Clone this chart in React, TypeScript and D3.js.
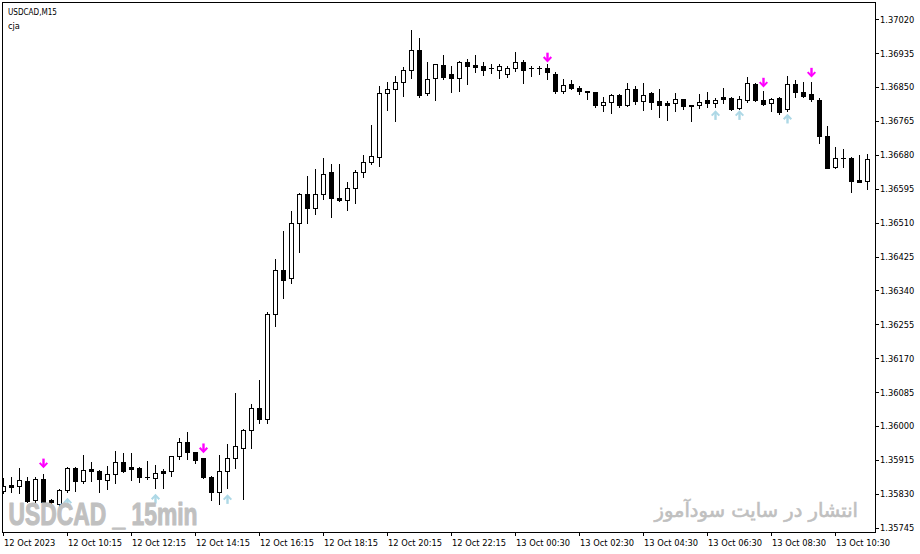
import React from 'react';
import * as d3 from 'd3';

const opens = [
  1.35837, 1.35851, 1.35850, 1.35862, 1.35814, 1.35867, 1.35814, 1.35804, 1.35839, 1.35895,
  1.35862, 1.35892, 1.35887, 1.35865, 1.35880, 1.35910, 1.35896, 1.35895, 1.35873, 1.35870,
  1.35887, 1.35887, 1.35926, 1.35961, 1.35935, 1.35919, 1.35873, 1.35835, 1.35888, 1.35921,
  1.35945, 1.35990, 1.36046, 1.36018, 1.36281, 1.36391, 1.36370, 1.36510, 1.36581, 1.36548,
  1.36581, 1.36636, 1.36571, 1.36566, 1.36596, 1.36636, 1.36661, 1.36675, 1.36834, 1.36846,
  1.36864, 1.36892, 1.36943, 1.36834, 1.36874, 1.36905, 1.36883, 1.36874, 1.36912, 1.36905,
  1.36902, 1.36898, 1.36894, 1.36884, 1.36899, 1.36913, 1.36899, 1.36898, 1.36897, 1.36883,
  1.36841, 1.36857, 1.36848, 1.36840, 1.36837, 1.36806, 1.36813, 1.36830, 1.36805, 1.36844,
  1.36814, 1.36834, 1.36814, 1.36810, 1.36809, 1.36819, 1.36804, 1.36805, 1.36818, 1.36811,
  1.36824, 1.36822, 1.36797, 1.36818, 1.36858, 1.36818, 1.36811, 1.36822, 1.36794, 1.36858,
  1.36837, 1.36833, 1.36818, 1.36728, 1.36649, 1.36672, 1.36671, 1.36617, 1.36614,
];
const highs = [
  1.35870, 1.35872, 1.35895, 1.35872, 1.35872, 1.35880, 1.35817, 1.35842, 1.35897, 1.35897,
  1.35927, 1.35910, 1.35890, 1.35900, 1.35937, 1.35932, 1.35932, 1.35897, 1.35912, 1.35902,
  1.35891, 1.35926, 1.35970, 1.35985, 1.35936, 1.35920, 1.35875, 1.35927, 1.35955, 1.36084,
  1.35992, 1.36055, 1.36115, 1.36285, 1.36420, 1.36490, 1.36538, 1.36584, 1.36626, 1.36645,
  1.36673, 1.36658, 1.36658, 1.36611, 1.36643, 1.36680, 1.36755, 1.36853, 1.36863, 1.36878,
  1.36900, 1.36993, 1.36973, 1.36913, 1.36908, 1.36930, 1.36903, 1.36915, 1.36920, 1.36930,
  1.36913, 1.36909, 1.36909, 1.36904, 1.36938, 1.36919, 1.36902, 1.36904, 1.36908, 1.36888,
  1.36871, 1.36868, 1.36853, 1.36841, 1.36838, 1.36825, 1.36833, 1.36833, 1.36860, 1.36853,
  1.36859, 1.36838, 1.36844, 1.36814, 1.36834, 1.36820, 1.36805, 1.36833, 1.36838, 1.36822,
  1.36847, 1.36826, 1.36828, 1.36876, 1.36861, 1.36841, 1.36822, 1.36826, 1.36878, 1.36868,
  1.36864, 1.36862, 1.36822, 1.36752, 1.36699, 1.36695, 1.36674, 1.36680, 1.36681,
];
const lows = [
  1.35832, 1.35835, 1.35832, 1.35809, 1.35809, 1.35807, 1.35799, 1.35797, 1.35835, 1.35837,
  1.35857, 1.35862, 1.35835, 1.35842, 1.35857, 1.35885, 1.35865, 1.35860, 1.35867, 1.35845,
  1.35845, 1.35875, 1.35917, 1.35917, 1.35907, 1.35870, 1.35814, 1.35804, 1.35845, 1.35895,
  1.35816, 1.35945, 1.36008, 1.36008, 1.36250, 1.36322, 1.36359, 1.36436, 1.36509, 1.36532,
  1.36569, 1.36525, 1.36564, 1.36542, 1.36559, 1.36624, 1.36657, 1.36653, 1.36793, 1.36765,
  1.36828, 1.36874, 1.36825, 1.36829, 1.36818, 1.36870, 1.36838, 1.36840, 1.36858, 1.36888,
  1.36880, 1.36885, 1.36874, 1.36875, 1.36890, 1.36859, 1.36877, 1.36883, 1.36871, 1.36836,
  1.36836, 1.36845, 1.36833, 1.36821, 1.36799, 1.36790, 1.36784, 1.36800, 1.36803, 1.36808,
  1.36793, 1.36795, 1.36774, 1.36767, 1.36790, 1.36794, 1.36765, 1.36797, 1.36801, 1.36801,
  1.36811, 1.36793, 1.36795, 1.36813, 1.36816, 1.36805, 1.36790, 1.36782, 1.36791, 1.36826,
  1.36826, 1.36815, 1.36711, 1.36647, 1.36648, 1.36649, 1.36588, 1.36612, 1.36594,
];
const closes = [
  1.35850, 1.35848, 1.35865, 1.35812, 1.35867, 1.35809, 1.35809, 1.35839, 1.35895, 1.35862,
  1.35890, 1.35887, 1.35867, 1.35880, 1.35910, 1.35887, 1.35892, 1.35872, 1.35871, 1.35882,
  1.35883, 1.35925, 1.35959, 1.35934, 1.35916, 1.35873, 1.35835, 1.35888, 1.35921, 1.35950,
  1.35990, 1.36044, 1.36018, 1.36281, 1.36392, 1.36367, 1.36510, 1.36583, 1.36548, 1.36581,
  1.36633, 1.36573, 1.36566, 1.36596, 1.36638, 1.36661, 1.36677, 1.36834, 1.36846, 1.36863,
  1.36893, 1.36943, 1.36830, 1.36871, 1.36907, 1.36875, 1.36873, 1.36912, 1.36903, 1.36900,
  1.36893, 1.36897, 1.36904, 1.36899, 1.36914, 1.36893, 1.36897, 1.36897, 1.36887, 1.36841,
  1.36854, 1.36848, 1.36839, 1.36838, 1.36806, 1.36813, 1.36830, 1.36804, 1.36846, 1.36814,
  1.36830, 1.36813, 1.36806, 1.36806, 1.36819, 1.36803, 1.36802, 1.36813, 1.36811, 1.36818,
  1.36819, 1.36794, 1.36819, 1.36859, 1.36818, 1.36808, 1.36819, 1.36788, 1.36857, 1.36837,
  1.36828, 1.36820, 1.36728, 1.36648, 1.36671, 1.36671, 1.36615, 1.36613, 1.36669,
];

const priceTicks = [
  1.37020, 1.36935, 1.36850, 1.36765, 1.36680, 1.36595, 1.36510, 1.36425,
  1.36340, 1.36255, 1.36170, 1.36085, 1.36000, 1.35915, 1.35830, 1.35745,
];

const timeTickIdx = [0, 8, 16, 24, 32, 40, 48, 56, 64, 72, 80, 88, 96, 104];
const timeLabels = [
  '12 Oct 2023', '12 Oct 10:15', '12 Oct 12:15', '12 Oct 14:15', '12 Oct 16:15',
  '12 Oct 18:15', '12 Oct 20:15', '12 Oct 22:15', '13 Oct 00:30', '13 Oct 02:30',
  '13 Oct 04:30', '13 Oct 06:30', '13 Oct 08:30', '13 Oct 10:30',
];

const sellIdx = [5, 25, 68, 95, 101];
const sellPrice = [1.35907, 1.35945, 1.36925, 1.36862, 1.36887];
const buyIdx = [8, 19, 28, 89, 92, 98];
const buyPrice = [1.35807, 1.35817, 1.35816, 1.36779, 1.36779, 1.36770];

const FONT = '"DejaVu Sans", Verdana, sans-serif';

export default function App() {
  const W = 920;
  const H = 554;
  const n = opens.length;
  const x = d3.scaleLinear().domain([0, n - 1]).range([3, 3 + 8 * (n - 1)]);
  const y = d3
    .scaleLinear()
    .domain([priceTicks[0], priceTicks[priceTicks.length - 1]])
    .range([19.3, 527.7]);

  const candles = opens.map((o, i) => {
    const c = closes[i];
    const col = Math.round(x(i));
    const yh = Math.round(y(highs[i]));
    const yl = Math.round(y(lows[i]));
    const yo = Math.round(y(o));
    const yc = Math.round(y(c));
    const top = Math.min(yo, yc);
    const bot = Math.max(yo, yc);
    const bull = c > o;
    let body;
    if (bull && bot - top >= 1) {
      body = (
        <rect x={col - 1.5} y={top + 0.5} width={4} height={bot - top} fill="#fff" stroke="#000" strokeWidth={1} />
      );
    } else {
      body = <rect x={col - 2} y={top} width={5} height={bot - top + 1} fill="#000" />;
    }
    return (
      <g key={i}>
        <rect x={col} y={yh} width={1} height={yl - yh + 1} fill="#000" />
        {body}
      </g>
    );
  });

  const downArrow = (cx: number, cy: number, key: string) => (
    <g key={key} fill="none" stroke="#ff00ff">
      <line x1={cx} y1={cy - 4.5} x2={cx} y2={cy + 3.5} strokeWidth={2.4} />
      <path d={`M${cx - 3.8},${cy - 0.2} L${cx},${cy + 3.8} L${cx + 3.8},${cy - 0.2}`} strokeWidth={2} />
    </g>
  );
  const upArrow = (cx: number, cy: number, key: string) => (
    <g key={key} fill="none" stroke="#add8e6">
      <line x1={cx} y1={cy + 4.5} x2={cx} y2={cy - 3.5} strokeWidth={2.4} />
      <path d={`M${cx - 3.8},${cy + 0.2} L${cx},${cy - 3.8} L${cx + 3.8},${cy + 0.2}`} strokeWidth={2} />
    </g>
  );

  return (
    <div style={{ position: 'absolute', left: 0, top: 0, width: W, height: H, background: '#fff' }}>
      <svg width={W} height={H} viewBox={`0 0 ${W} ${H}`} style={{ display: 'block' }}>
        <defs>
          <clipPath id="plot">
            <rect x={3} y={3} width={872} height={529} />
          </clipPath>
        </defs>
        <rect x={0} y={0} width={W} height={H} fill="#fff" />

        <g clipPath="url(#plot)" shapeRendering="crispEdges">{candles}</g>

        <g clipPath="url(#plot)">
          {sellIdx.map((idx, k) => downArrow(Math.round(x(idx)) + 0.5, y(sellPrice[k]), `s${k}`))}
          {buyIdx.map((idx, k) => upArrow(Math.round(x(idx)) + 0.5, y(buyPrice[k]), `b${k}`))}
        </g>

        {/* watermarks */}
        <text
          x={8.5}
          y={524.5}
          fontFamily='"Liberation Sans Narrow", "Liberation Sans", Arial, sans-serif'
          fontWeight="bold"
          fontSize={31}
          fill="#c0c0c0"
          stroke="#c0c0c0"
          strokeWidth={1.1}
          strokeLinejoin="round"
          textLength={189}
          lengthAdjust="spacingAndGlyphs"
        >
          USDCAD _ 15min
        </text>
        <text
          x={858}
          y={517}
          textAnchor="end"
          fontFamily={FONT}
          fontSize={19.5}
          fill="#c0c0c0"
          stroke="#c0c0c0"
          strokeWidth={0.6}
        >
          انتشار در سایت سودآموز
        </text>

        {/* frame */}
        <rect x={2.5} y={2.5} width={873} height={530} fill="none" stroke="#000" strokeWidth={1} shapeRendering="crispEdges" />

        {/* price axis */}
        <g shapeRendering="crispEdges">
          {priceTicks.map((p, k) => (
            <rect key={k} x={876} y={Math.round(y(p))} width={3} height={1} fill="#000" />
          ))}
        </g>
        {priceTicks.map((p, k) => (
          <text key={k} x={880} y={y(p) + 3.4} fontFamily={FONT} fontSize={8.3} fill="#000">
            {p.toFixed(5)}
          </text>
        ))}

        {/* time axis */}
        <g shapeRendering="crispEdges">
          {timeTickIdx.map((idx, k) => (
            <rect key={k} x={Math.round(x(idx))} y={533} width={1} height={3} fill="#000" />
          ))}
        </g>
        {timeTickIdx.map((idx, k) => (
          <text key={k} x={Math.round(x(idx)) + 1} y={546} fontFamily={FONT} fontSize={8.3} fill="#000">
            {timeLabels[k]}
          </text>
        ))}

        {/* header */}
        <text x={8} y={15} fontFamily={FONT} fontSize={8.3} fill="#000" textLength={49} lengthAdjust="spacingAndGlyphs">
          USDCAD,M15
        </text>
        <text x={8} y={28.5} fontFamily={FONT} fontSize={8.3} fill="#000">
          cja
        </text>
      </svg>
    </div>
  );
}
